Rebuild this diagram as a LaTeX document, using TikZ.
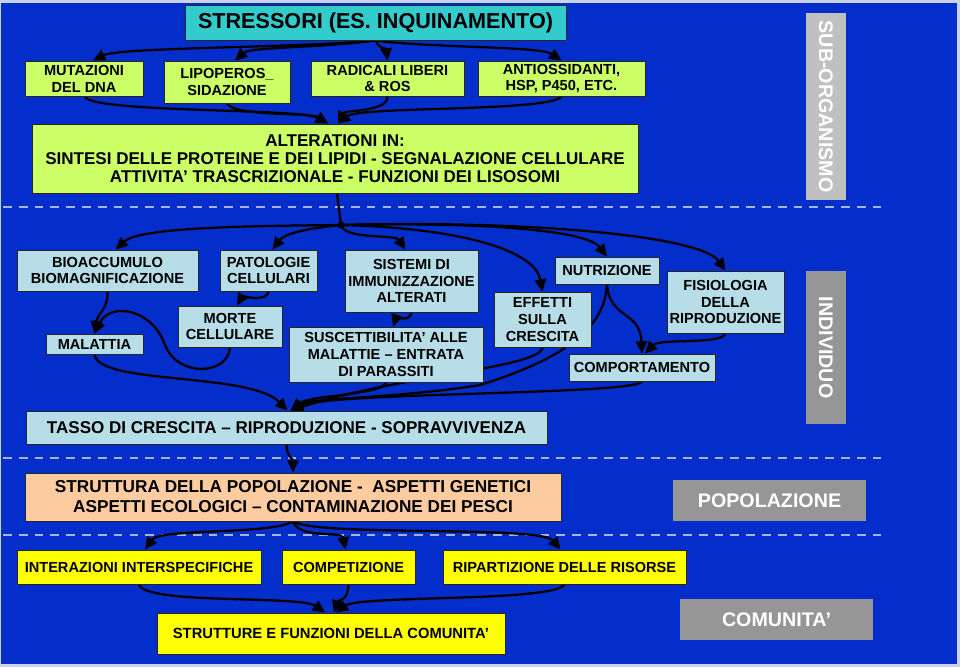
\documentclass[tikz,border=0pt]{standalone}
\usepackage{fontspec}
\setmainfont{Liberation Sans}
\usetikzlibrary{arrows.meta,calc,backgrounds}

\definecolor{fondo}{RGB}{4,46,204}
\definecolor{bordo}{RGB}{200,210,235}
\definecolor{ciano}{RGB}{51,204,204}
\definecolor{giallino}{RGB}{204,255,102}
\definecolor{azzurro}{RGB}{183,222,232}
\definecolor{pesca}{RGB}{252,204,160}
\definecolor{giallo}{RGB}{255,255,0}
\definecolor{grigiochiaro}{RGB}{192,192,192}
\definecolor{grigio}{RGB}{150,150,150}
\definecolor{tratteggio}{RGB}{165,180,215}

\begin{document}
\begin{tikzpicture}[x=0.02cm,y=-0.02cm,
  box/.style={draw=black!85,line width=0.5pt,inner sep=0pt,align=center,text=black,font=\bfseries\fontsize{8.3}{9.6}\selectfont},
  verde/.style={box,fill=giallino},
  celeste/.style={box,fill=azzurro},
  gialla/.style={box,fill=giallo},
  livello/.style={inner sep=0pt,align=center,text=white,font=\bfseries\fontsize{11.2}{13}\selectfont},
  freccia/.style={-{Triangle[length=7pt,width=6.5pt]},line width=1.3pt,black},
  sep/.style={line width=1.2pt,color=tratteggio,dash pattern=on 5pt off 4pt}]

\useasboundingbox (0,0) rectangle (960,667);

\node[box,fill=ciano,minimum width=7.62cm,minimum height=0.7cm,font=\bfseries\fontsize{12.3}{14}\selectfont] (stress) at (375.5,22.5) {STRESSORI (ES. INQUINAMENTO)};

\node[verde,minimum width=2.36cm,minimum height=0.7cm] (mut) at (84,78.5) {MUTAZIONI\\DEL DNA};

\node[verde,minimum width=2.52cm,minimum height=0.84cm] (lipo) at (227,82) {LIPOPEROS\_\\SIDAZIONE};

\node[verde,minimum width=3.06cm,minimum height=0.7cm] (radi) at (387.5,78.5) {RADICALI LIBERI\\\& ROS};

\node[verde,minimum width=3.34cm,minimum height=0.7cm] (anti) at (561.5,78.5) {ANTIOSSIDANTI,\\HSP, P450, ETC.};

\node[verde,minimum width=12.12cm,minimum height=1.38cm,font=\bfseries\fontsize{9.7}{10.1}\selectfont] (alt) at (335,158.5) {ALTERATIONI IN:\\SINTESI DELLE PROTEINE E DEI LIPIDI - SEGNALAZIONE CELLULARE\\ATTIVITA’ TRASCRIZIONALE - FUNZIONI DEI LISOSOMI};

\node[livello,fill=grigiochiaro,rotate=-90,minimum width=3.74cm,minimum height=0.8cm] (sub) at (826,106.5) {SUB-ORGANISMO};

\node[circle,fill=black,inner sep=0pt,minimum size=0.14cm] (snodo) at (341,225) {};

\node[celeste,minimum width=3.62cm,minimum height=0.82cm] (bio) at (107.5,270.5) {BIOACCUMULO\\BIOMAGNIFICAZIONE};

\node[celeste,minimum width=1.94cm,minimum height=0.82cm] (pato) at (268.5,270.5) {PATOLOGIE\\CELLULARI};

\node[celeste,minimum width=2.08cm,minimum height=0.82cm] (morte) at (230,326.5) {MORTE\\CELLULARE};

\node[celeste,minimum width=1.94cm,minimum height=0.4cm] (mala) at (94.5,344) {MALATTIA};

\node[celeste,minimum width=2.66cm,minimum height=1.24cm] (sist) at (411.5,281) {SISTEMI DI\\IMMUNIZZAZIONE\\ALTERATI};

\node[celeste,minimum width=3.88cm,minimum height=1.1cm] (susc) at (386,354.5) {SUSCETTIBILITA’ ALLE\\MALATTIE – ENTRATA\\DI PARASSITI};

\node[celeste,minimum width=1.94cm,minimum height=1.1cm] (eff) at (542.5,319.5) {EFFETTI\\SULLA\\CRESCITA};

\node[celeste,minimum width=2.08cm,minimum height=0.54cm] (nutr) at (607,270.5) {NUTRIZIONE};

\node[celeste,minimum width=2.34cm,minimum height=1.24cm] (fisio) at (725.5,302) {FISIOLOGIA\\DELLA\\RIPRODUZIONE};

\node[celeste,minimum width=2.92cm,minimum height=0.54cm] (comp) at (642,367.5) {COMPORTAMENTO};

\node[livello,fill=grigio,rotate=-90,minimum width=3.06cm,minimum height=0.8cm] (indiv) at (826,347.5) {INDIVIDUO};

\node[celeste,minimum width=10.42cm,minimum height=0.66cm,font=\bfseries\fontsize{9.7}{11}\selectfont] (tasso) at (286.5,427.5) {TASSO DI CRESCITA – RIPRODUZIONE - SOPRAVVIVENZA};

\node[box,fill=pesca,minimum width=10.72cm,minimum height=0.96cm,font=\bfseries\fontsize{9.8}{11.4}\selectfont] (strutt) at (293,497) {STRUTTURA DELLA POPOLAZIONE - \ ASPETTI GENETICI\\ASPETTI ECOLOGICI – CONTAMINAZIONE DEI PESCI};

\node[livello,fill=grigio,minimum width=3.86cm,minimum height=0.82cm] (popol) at (769.5,500.5) {POPOLAZIONE};

\node[gialla,minimum width=4.88cm,minimum height=0.68cm] (inter) at (139,567) {INTERAZIONI INTERSPECIFICHE};

\node[gialla,minimum width=2.66cm,minimum height=0.68cm] (compet) at (348.5,567) {COMPETIZIONE};

\node[gialla,minimum width=4.86cm,minimum height=0.68cm] (ripart) at (564.5,567) {RIPARTIZIONE DELLE RISORSE};

\node[gialla,minimum width=6.96cm,minimum height=0.82cm,font=\bfseries\fontsize{8.4}{10}\selectfont] (strf) at (331,633.5) {STRUTTURE E FUNZIONI DELLA COMUNITA’};

\node[livello,fill=grigio,minimum width=3.86cm,minimum height=0.82cm] (comu) at (776.5,619.5) {COMUNITA’};

\begin{pgfonlayer}{background}

\fill[bordo] (0,0) rectangle (960,667);

\fill[fondo] (1,3) rectangle (957,664);

\draw[sep] (3,207) -- (882,207);

\draw[sep] (3,458) -- (882,458);

\draw[sep] (3,535) -- (882,535);

\draw[freccia] (stress.south) .. controls (300,48) and (120,47) .. ($(mut.north)+(9,0)$);

\draw[freccia] (stress.south) .. controls (320,48) and (250,47) .. ($(lipo.north)+(8,0)$);

\draw[freccia] (stress.south) .. controls (380,50) and (386,48) .. (radi.north);

\draw[freccia] (stress.south) .. controls (430,48) and (540,46) .. (anti.north);

\draw[freccia] ($(mut.south)+(1,0)$) .. controls (90,113) and (300,108) .. ($(alt.north)+(-7,0)$);

\draw[freccia] (lipo.south) .. controls (235,117) and (310,112) .. ($(alt.north)+(-7,0)$);

\draw[freccia] (radi.south) .. controls (388,112) and (345,110) .. ($(alt.north)+(3,0)$);

\draw[freccia] (anti.south) .. controls (550,112) and (360,106) .. ($(alt.north)+(3,0)$);

\draw[line width=1.3pt] ($(alt.south)+(2,0)$) -- (snodo.center);

\draw[freccia] (snodo.center) .. controls (250,226) and (140,227) .. ($(bio.north)+(8,0)$);

\draw[freccia] (snodo.center) .. controls (310,228) and (285,233) .. ($(pato.north)+(4,0)$);

\draw[freccia] (snodo.center) .. controls (345,240) and (395,234) .. ($(sist.north)+(-6,0)$);

\draw[freccia] (snodo.center) .. controls (460,228) and (535,250) .. (eff.north);

\draw[freccia] (snodo.center) .. controls (460,222) and (585,228) .. (nutr.north);

\draw[freccia] (snodo.center) .. controls (520,220) and (700,235) .. (fisio.north);

\draw[freccia] (bio.south) .. controls (108,310) and (98,312) .. (mala.north);

\draw[freccia] (pato.south) .. controls (268,302) and (242,297) .. ($(morte.north)+(7,0)$);

\draw[freccia] (morte.south) .. controls (228,375) and (178,378) .. (165,345) .. controls (152,308) and (110,302) .. (mala.north);

\draw[freccia] (mala.south) .. controls (98,385) and (250,372) .. ($(tasso.north)+(1,0)$);

\draw[freccia] (sist.south) .. controls (410,322) and (396,318) .. ($(susc.north)+(7,0)$);

\draw[freccia] (susc.south) .. controls (383,395) and (310,395) .. ($(tasso.north)+(4,0)$);

\draw[freccia] (eff.south) .. controls (540,368) and (400,375) .. ($(tasso.north)+(4,0)$);

\draw[freccia] (nutr.south) .. controls (605,330) and (560,360) .. (480,385) .. controls (400,398) and (310,398) .. ($(tasso.north)+(4,0)$);

\draw[freccia] (comp.south) .. controls (635,395) and (330,392) .. ($(tasso.north)+(4,0)$);

\draw[freccia] (nutr.south) .. controls (610,320) and (640,310) .. (comp.north);

\draw[freccia] (fisio.south) .. controls (722,345) and (660,338) .. ($(comp.north)+(3,0)$);

\draw[freccia] (tasso.south) .. controls (287,458) and (293,458) .. (strutt.north);

\draw[freccia] (strutt.south) .. controls (270,535) and (160,528) .. ($(inter.north)+(6,0)$);

\draw[freccia] (strutt.south) .. controls (300,540) and (342,530) .. ($(compet.north)+(-3,0)$);

\draw[freccia] (strutt.south) .. controls (320,537) and (540,525) .. ($(ripart.north)+(-4,0)$);

\draw[freccia] (inter.south) .. controls (145,605) and (300,595) .. ($(strf.north)+(-6,0)$);

\draw[freccia] (compet.south) .. controls (348,602) and (338,600) .. ($(strf.north)+(3,0)$);

\draw[freccia] (ripart.south) .. controls (555,602) and (360,595) .. ($(strf.north)+(5,0)$);

\end{pgfonlayer}

\end{tikzpicture}
\end{document}
